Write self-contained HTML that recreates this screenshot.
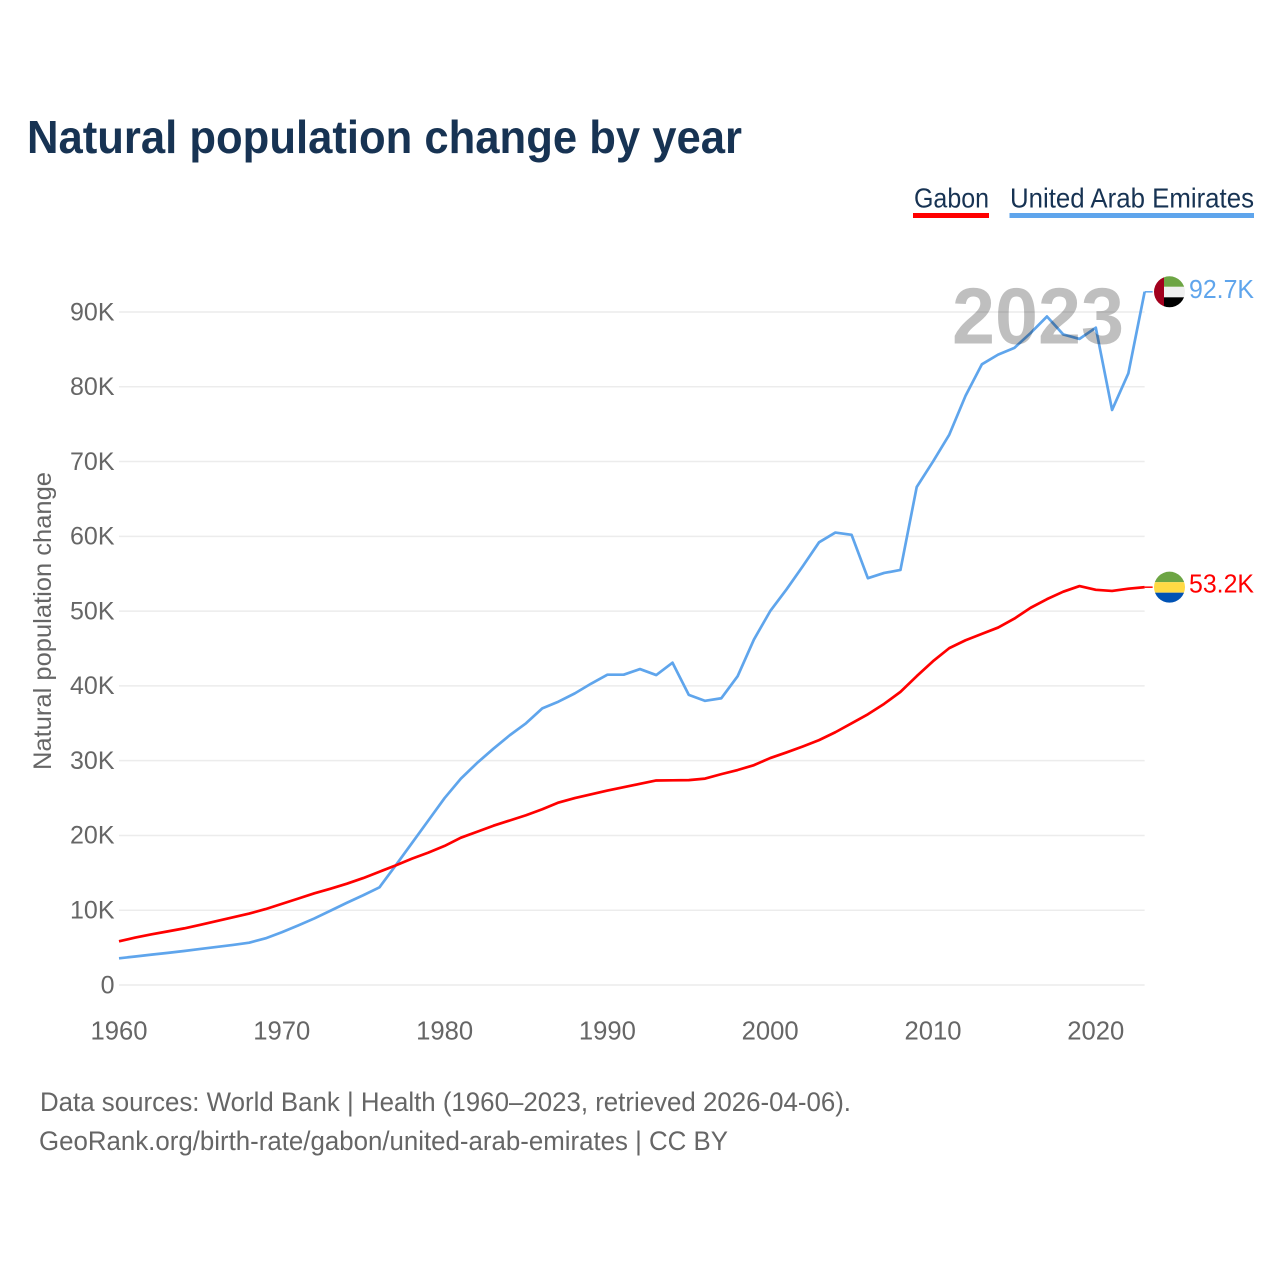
<!DOCTYPE html>
<html lang="en">
<head>
<meta charset="utf-8">
<title>Natural population change by year</title>
<style>
html,body{margin:0;padding:0;background:#fff;width:1280px;height:1280px;overflow:hidden}
svg{display:block}
text{font-family:"Liberation Sans","DejaVu Sans",sans-serif}
</style>
</head>
<body>
<svg id="chart" xmlns="http://www.w3.org/2000/svg" width="1280" height="1280" viewBox="0 0 1280 1280">
  <rect width="1280" height="1280" fill="#fff"/>
  <text x="27" y="153" font-size="46" font-weight="700" fill="#173353" textLength="715" lengthAdjust="spacingAndGlyphs">Natural population change by year</text>

  <g>
    <text x="914" y="207.5" font-size="27.5" fill="#173353" textLength="75" lengthAdjust="spacingAndGlyphs">Gabon</text>
    <rect x="913" y="213" width="76" height="5" fill="#ff0000"/>
  </g>
  <g>
    <text x="1010" y="207.5" font-size="27.5" fill="#173353" textLength="244" lengthAdjust="spacingAndGlyphs">United Arab Emirates</text>
    <rect x="1009.5" y="213" width="244.5" height="5" fill="#5fa5ec"/>
  </g>

  <g id="grid"></g>
  <g id="yticks"></g>
  <g id="xticks"></g>
  <text transform="translate(51,621) rotate(-90)" text-anchor="middle" font-size="25" fill="#666" textLength="298" lengthAdjust="spacingAndGlyphs">Natural population change</text>

  <g id="series"></g>

  <text id="year-label" x="952" y="343.5" font-size="80" font-weight="700" fill="#000" fill-opacity="0.25" textLength="172" lengthAdjust="spacingAndGlyphs">2023</text>

  <defs>
    <clipPath id="clip-uae"><circle id="clip-uae-c" cx="1169.5" cy="291" r="15.5"/></clipPath>
    <clipPath id="clip-gab"><circle id="clip-gab-c" cx="1169.5" cy="587" r="15.5"/></clipPath>
  </defs>
  <g id="flag-uae" clip-path="url(#clip-uae)">
    <rect id="uae-a" x="1154" y="275" width="10" height="32" fill="#a2001d"/>
    <rect id="uae-b" x="1164" y="275" width="21" height="11" fill="#6da544"/>
    <rect id="uae-c" x="1164" y="286" width="21" height="10.5" fill="#f0f0f0"/>
    <rect id="uae-d" x="1164" y="296.5" width="21" height="11" fill="#000"/>
  </g>
  <g id="flag-gabon" clip-path="url(#clip-gab)">
    <rect id="gab-a" x="1154" y="571" width="31" height="11" fill="#6da544"/>
    <rect id="gab-b" x="1154" y="582" width="31" height="10.5" fill="#ffda44"/>
    <rect id="gab-c" x="1154" y="592.5" width="31" height="11" fill="#0052b4"/>
  </g>
  <text id="value-uae" x="1189" y="297" font-size="26" fill="#5fa5ec" textLength="65" lengthAdjust="spacingAndGlyphs">92.7K</text>
  <text id="value-gabon" x="1189" y="592.5" font-size="26" fill="#ff0000" textLength="65" lengthAdjust="spacingAndGlyphs">53.2K</text>

  <text x="40" y="1111" font-size="27" fill="#666" textLength="811" lengthAdjust="spacingAndGlyphs">Data sources: World Bank | Health (1960–2023, retrieved 2026-04-06).</text>
  <text x="39" y="1150" font-size="27" fill="#666" textLength="689" lengthAdjust="spacingAndGlyphs">GeoRank.org/birth-rate/gabon/united-arab-emirates | CC BY</text>
</svg>
<script>
const years = [1960,1961,1962,1963,1964,1965,1966,1967,1968,1969,1970,1971,1972,1973,1974,1975,1976,1977,1978,1979,1980,1981,1982,1983,1984,1985,1986,1987,1988,1989,1990,1991,1992,1993,1994,1995,1996,1997,1998,1999,2000,2001,2002,2003,2004,2005,2006,2007,2008,2009,2010,2011,2012,2013,2014,2015,2016,2017,2018,2019,2020,2021,2022,2023];
const gabonValues = [5840,6350,6780,7170,7570,8050,8550,9050,9550,10150,10850,11550,12260,12880,13550,14300,15150,16000,16900,17700,18600,19700,20500,21300,22000,22700,23500,24400,25000,25500,26000,26450,26900,27350,27370,27400,27600,28200,28750,29400,30350,31100,31900,32750,33800,35000,36200,37600,39200,41300,43300,45050,46100,46950,47800,49000,50450,51600,52600,53350,52850,52700,53000,53200];
const uaeValues = [3570,3810,4060,4300,4550,4820,5090,5360,5660,6240,7050,7950,8900,9950,11000,12000,13060,16000,19000,22000,25000,27600,29700,31600,33400,35000,37000,37900,39000,40300,41500,41500,42250,41450,43100,38800,38000,38350,41300,46200,50000,52900,56000,59200,60500,60200,54400,55100,55500,66600,70000,73600,78800,83000,84300,85200,87200,89400,87000,86400,87900,76900,81800,92700];
const yTickValues = [0,10000,20000,30000,40000,50000,60000,70000,80000,90000];
const yTickLabels = ["0","10K","20K","30K","40K","50K","60K","70K","80K","90K"];
const xTickValues = [1960,1970,1980,1990,2000,2010,2020];

const NS = 'http://www.w3.org/2000/svg';
const X0 = 119, PX_PER_YEAR = 16.28, Y0 = 985, PX_PER_UNIT = 673 / 90000;
const xScale = v => X0 + (v - years[0]) * PX_PER_YEAR;
const yScale = v => Y0 - v * PX_PER_UNIT;
const plotRight = xScale(years[years.length - 1]);

function mk(tag, parent, attrs) {
  const el = document.createElementNS(NS, tag);
  for (const k in attrs) el.setAttribute(k, attrs[k]);
  parent.appendChild(el);
  return el;
}

const gridGroup = document.getElementById('grid');
const yGroup = document.getElementById('yticks');
yTickValues.forEach((v, i) => {
  const line = mk('line', gridGroup, {x1: X0, x2: plotRight, y1: yScale(v), y2: yScale(v), stroke: '#ececec', 'stroke-width': 1.5});
  
  
  const label = mk('text', yGroup, {x: 114.5, y: yScale(v) + 8.3, 'text-anchor': 'end', 'font-size': 25, fill: '#666'});
  
  
  label.textContent = yTickLabels[i];
});

const xGroup = document.getElementById('xticks');
xTickValues.forEach(v => {
  const label = mk('text', xGroup, {x: xScale(v), y: 1039.5, 'text-anchor': 'middle', 'font-size': 25.5, fill: '#666', textLength: 57, lengthAdjust: 'spacingAndGlyphs'});
  
  
  label.textContent = String(v);
});

const seriesGroup = document.getElementById('series');
function drawSeries(values, color) {
  const pts = values.map((v, i) => xScale(years[i]).toFixed(2) + ',' + yScale(v).toFixed(2));
  return mk('polyline', seriesGroup, {points: pts.join(' '), fill: 'none', stroke: color, 'stroke-width': 2.7, 'stroke-linejoin': 'round'});
}
function drawConnector(value, color) {
  const y = yScale(value);
  return mk('line', seriesGroup, {x1: plotRight, x2: plotRight + 8, y1: y, y2: y, stroke: color, 'stroke-width': 1.5});
}
function placeEnd(value, ids, clipId, valueId) {
  const cy = yScale(value);
  const clip = document.getElementById(clipId);
  const dy = cy - (+clip.getAttribute('cy'));
  clip.setAttribute('cy', cy);
  ids.forEach(id => {
    const r = document.getElementById(id);
    r.setAttribute('y', +r.getAttribute('y') + dy);
  });
  const t = document.getElementById(valueId);
  t.setAttribute('y', +t.getAttribute('y') + dy);
}

const uaeLine = drawSeries(uaeValues, '#5fa5ec');


const gabonLine = drawSeries(gabonValues, '#ff0000');


const uaeConnector = drawConnector(uaeValues[uaeValues.length - 1], '#5fa5ec');


const gabonConnector = drawConnector(gabonValues[gabonValues.length - 1], '#ff0000');



placeEnd(uaeValues[uaeValues.length - 1], ['uae-a','uae-b','uae-c','uae-d'], 'clip-uae-c', 'value-uae');
placeEnd(gabonValues[gabonValues.length - 1], ['gab-a','gab-b','gab-c'], 'clip-gab-c', 'value-gabon');
document.getElementById('value-uae').textContent = (uaeValues[uaeValues.length - 1] / 1000).toFixed(1) + 'K';
document.getElementById('value-gabon').textContent = (gabonValues[gabonValues.length - 1] / 1000).toFixed(1) + 'K';
</script>
</body>
</html>
